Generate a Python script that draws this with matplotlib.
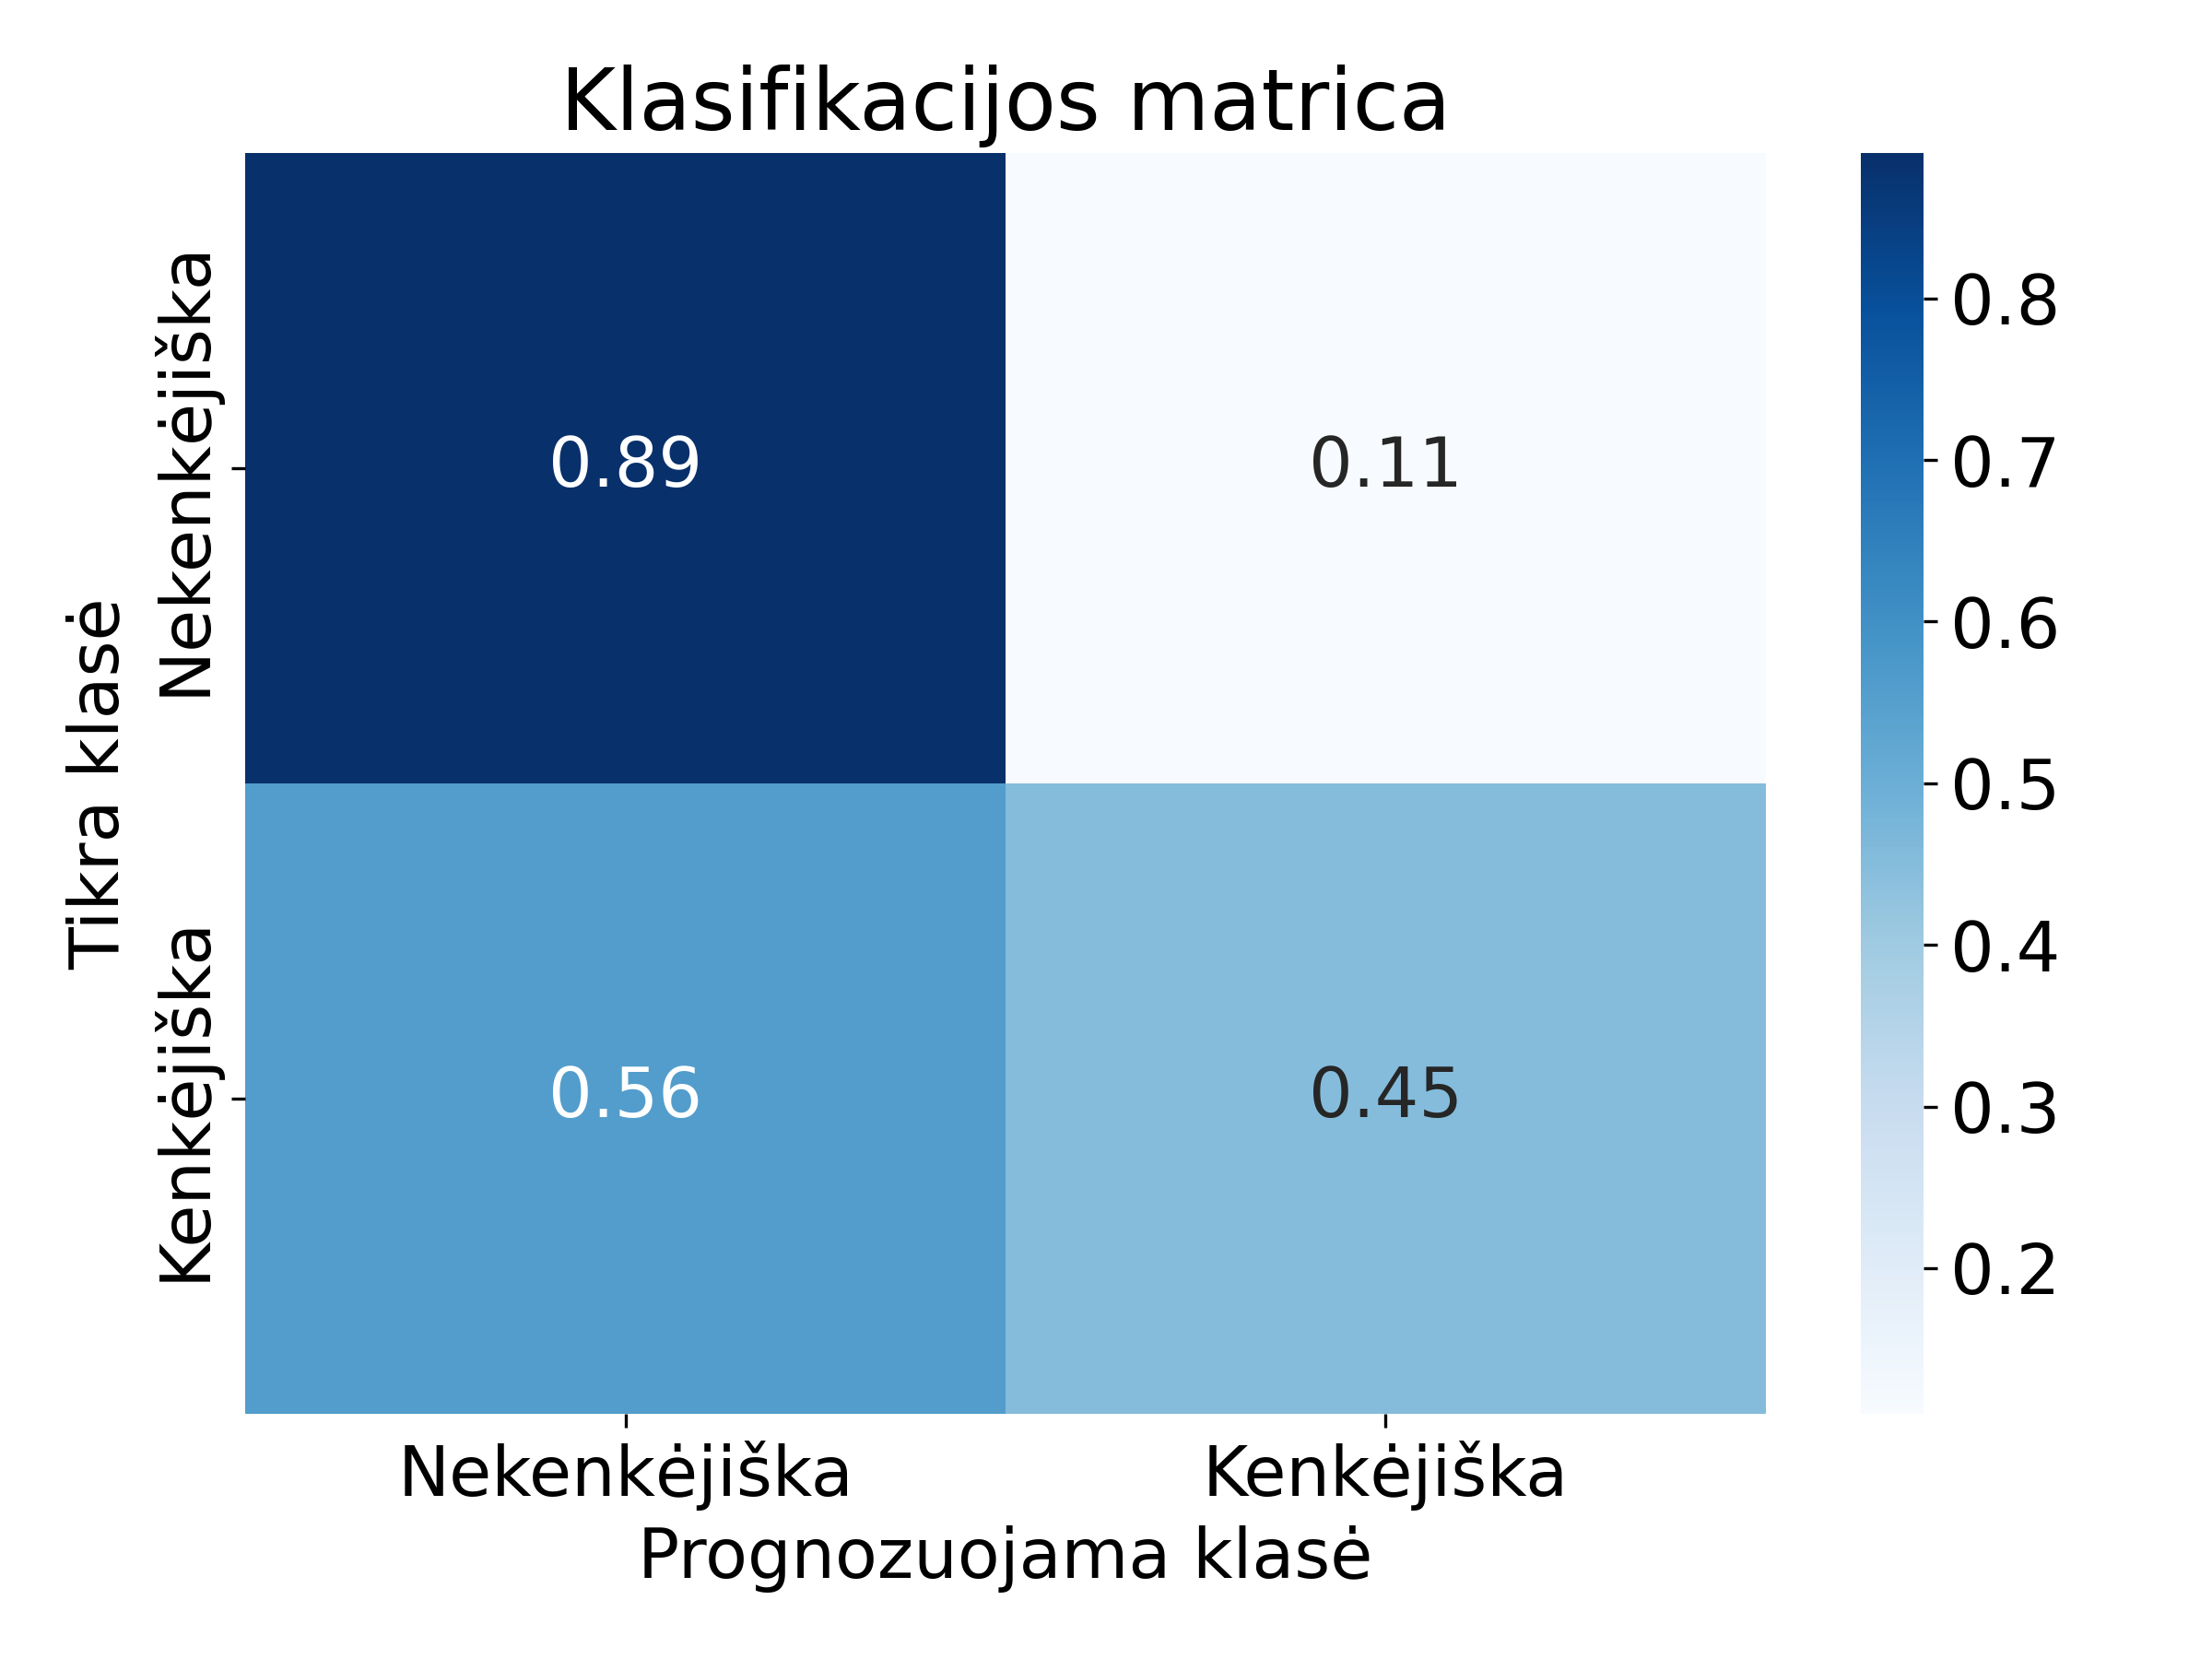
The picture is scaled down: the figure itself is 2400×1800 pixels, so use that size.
import matplotlib
matplotlib.use("Agg")
import matplotlib.pyplot as plt
import numpy as np
import seaborn as sns

labels = ["Nekenkėjiška", "Kenkėjiška"]
row_top = [0.89, 0.11]
row_bottom = [0.56, 0.45]

cm = np.array([row_top, row_bottom])

plt.rcParams["font.size"] = 16
fig, ax = plt.subplots(figsize=(8, 6))
sns.heatmap(cm, annot=True, fmt=".2f", cmap="Blues", ax=ax,
            xticklabels=labels, yticklabels=labels,
            annot_kws={"size": 18})
ax.set_title("Klasifikacijos matrica", fontsize=22)
ax.set_xlabel("Prognozuojama klasė", fontsize=18)
ax.set_ylabel("Tikra klasė", fontsize=18)
ax.tick_params(axis="both", labelsize=18)
ax.figure.axes[-1].tick_params(labelsize=18)
plt.tight_layout()
plt.savefig("out.png", dpi=300)
